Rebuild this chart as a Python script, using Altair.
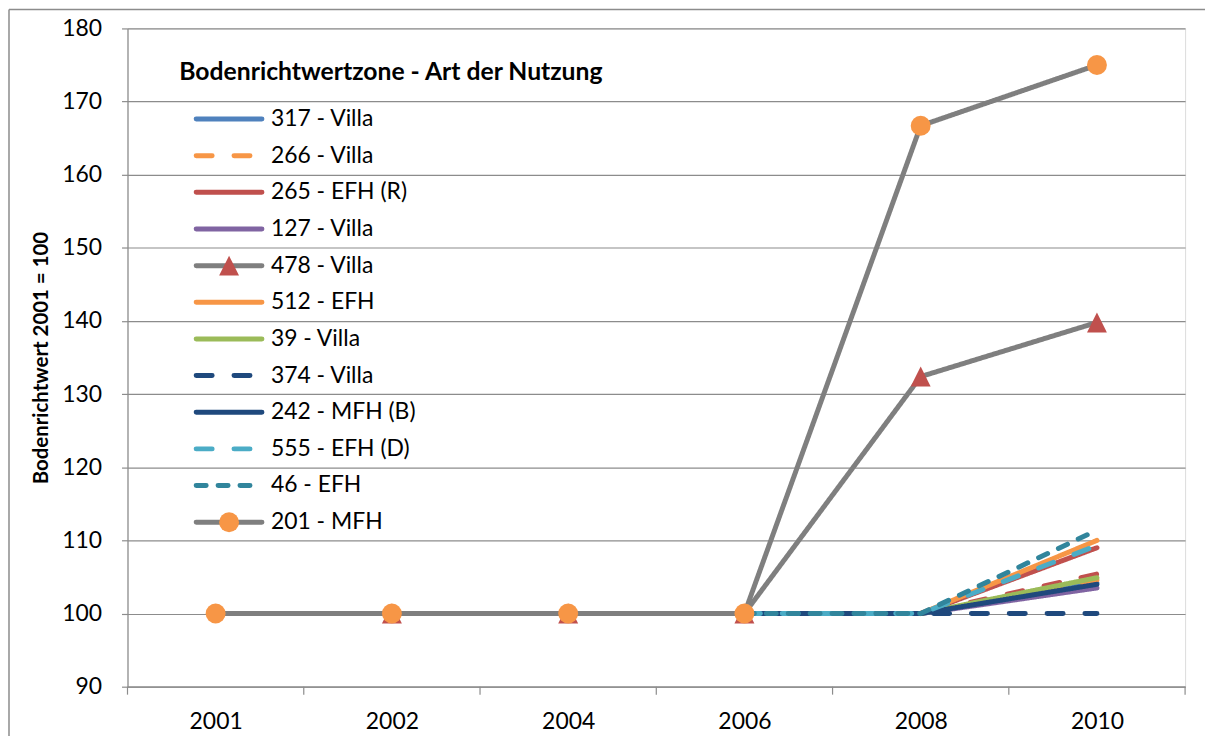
import altair as alt
import pandas as pd

years = ["2001", "2002", "2004", "2006", "2008", "2010"]

series_names = [
    "317 - Villa", "266 - Villa", "265 - EFH (R)", "ohne Legendeneintrag",
    "127 - Villa", "478 - Villa", "512 - EFH", "39 - Villa", "374 - Villa",
    "242 - MFH (B)", "555 - EFH (D)", "46 - EFH", "201 - MFH",
]
legend_names = [
    "317 - Villa", "266 - Villa", "265 - EFH (R)", "127 - Villa", "478 - Villa",
    "512 - EFH", "39 - Villa", "374 - Villa", "242 - MFH (B)", "555 - EFH (D)",
    "46 - EFH", "201 - MFH",
]

v_317 = [None, None, None, 100, 100, 104.2]
v_266 = [None, None, None, 100, 100, 104.6]
v_265 = [None, None, None, 100, 100, 109.0]
v_extra = [None, None, None, 100, 100, 105.4]
v_127 = [None, None, None, 100, 100, 103.5]
v_478 = [None, 100, 100, 100, 132.4, 139.8]
v_512 = [None, None, None, 100, 100, 110.0]
v_39 = [None, None, None, 100, 100, 104.9]
v_374 = [None, None, None, 100, 100, 100.0]
v_242 = [None, None, None, 100, 100, 104.0]
v_555 = [None, None, None, 100, 100, 109.3]
v_46 = [None, None, None, 100, 100, 111.4]
v_201 = [100, 100, 100, 100, 166.7, 175.0]

values = [v_317, v_266, v_265, v_extra, v_127, v_478, v_512, v_39, v_374,
          v_242, v_555, v_46, v_201]

colors = ["#4F81BD", "#F79646", "#C0504D", "#C0504D", "#8064A2", "#7F7F7F",
          "#F79646", "#9BBB59", "#1F497D", "#1F497D", "#4BACC6", "#31859C",
          "#7F7F7F"]
LONG = [16, 22]
SHORT = [10, 12]
SOLID = [1, 0]
dashes = [SOLID, LONG, SOLID, LONG, SOLID, SOLID, SOLID, SOLID, LONG, SOLID,
          LONG, SHORT, SOLID]

rows = []
for name, vals in zip(series_names, values):
    for i, v in enumerate(vals):
        if v is not None:
            rows.append({"series": name, "i": i, "value": v})
df = pd.DataFrame(rows)

legend_df = pd.DataFrame({"series": legend_names, "row": list(range(len(legend_names)))})
boundaries = pd.DataFrame({"b": [k - 0.5 for k in range(len(years) + 1)]})

W, H = 1062, 661
GRID = "#8C8C8C"
FONT = "Lato"
FS = 23

color_enc = alt.Color("series:N", scale=alt.Scale(domain=series_names, range=colors), legend=None)
dash_enc = alt.StrokeDash("series:N", scale=alt.Scale(domain=series_names, range=dashes), legend=None)

label_expr = "[" + ",".join("'%s'" % y for y in years) + "][datum.value]"

x_scale = alt.Scale(domain=[-0.5, len(years) - 0.5], nice=False, zero=False)
x_axis = alt.Axis(values=list(range(len(years))), labelExpr=label_expr, ticks=False,
                  grid=False, domainColor=GRID, domainWidth=1.2, labelFontSize=FS,
                  labelColor="black", labelPadding=24, title=None, labelFont=FONT)
x_enc = alt.X("i:Q", scale=x_scale, axis=x_axis)
y_enc = alt.Y(
    "value:Q",
    scale=alt.Scale(domain=[90, 180], nice=False, zero=False),
    axis=alt.Axis(values=list(range(90, 181, 10)), grid=True, gridColor=GRID,
                  gridWidth=1.2, domainColor=GRID, domainWidth=1.2, tickColor=GRID,
                  tickSize=6, tickWidth=1.2, labelFontSize=FS, labelColor="black",
                  labelPadding=20, labelFont=FONT,
                  title="Bodenrichtwert 2001 = 100", titleFontSize=20.5,
                  titleFontWeight="bold", titleColor="black", titleFont=FONT,
                  titleX=-86, titleBaseline="middle"),
)

base = alt.Chart(df)

frame_src = alt.Chart(boundaries).transform_filter("datum.b < 0")
frame_left = frame_src.mark_rule(color="#8C8C8C", strokeWidth=1.5).encode(
    x=alt.value(-119), y=alt.value(-19), y2=alt.value(760)
)
frame_top = frame_src.mark_rule(color="#8C8C8C", strokeWidth=1.5).encode(
    y=alt.value(-19), x=alt.value(-119), x2=alt.value(1100)
)

xticks = alt.Chart(boundaries).mark_rule(color=GRID, strokeWidth=1.2).encode(
    x=alt.X("b:Q", scale=x_scale, axis=x_axis),
    y=alt.value(H), y2=alt.value(H + 8),
)

main_layers = []
for name in series_names:
    if name == "201 - MFH":
        continue
    main_layers.append(
        base.transform_filter(alt.datum.series == name)
        .mark_line(strokeWidth=5, strokeCap="round", strokeJoin="round")
        .encode(x=x_enc, y=y_enc, color=color_enc, strokeDash=dash_enc)
    )

tri_path = "M0,-1L1,1L-1,1Z"
main_layers.append(
    base.transform_filter(alt.datum.series == "478 - Villa")
    .mark_point(shape=tri_path, filled=True, fill="#C0504D", size=400, opacity=1, strokeWidth=0)
    .encode(x=x_enc, y=y_enc)
)
main_layers.append(
    base.transform_filter(alt.datum.series == "201 - MFH")
    .mark_line(strokeWidth=5, strokeCap="round", strokeJoin="round")
    .encode(x=x_enc, y=y_enc, color=color_enc, strokeDash=dash_enc)
)
main_layers.append(
    base.transform_filter(alt.datum.series == "201 - MFH")
    .mark_point(shape="circle", filled=True, fill="#F79646", size=400, opacity=1, strokeWidth=0)
    .encode(x=x_enc, y=y_enc)
)

main = alt.layer(frame_left, frame_top, *main_layers, xticks)

ly = alt.Y("row:Q", scale=alt.Scale(domain=[0, len(legend_names) - 1], range=[91, 91 + 36.8 * (len(legend_names) - 1)], nice=False, zero=False), axis=None)
lbase = alt.Chart(legend_df)
leg_lines = lbase.mark_rule(strokeWidth=5, strokeCap="round").encode(
    x=alt.value(69), x2=alt.value(135), y=ly, color=color_enc, strokeDash=dash_enc
)
leg_tri = lbase.transform_filter(alt.datum.series == "478 - Villa").mark_point(
    shape=tri_path, filled=True, fill="#C0504D", size=400, opacity=1, strokeWidth=0
).encode(x=alt.value(102), y=ly)
leg_circ = lbase.transform_filter(alt.datum.series == "201 - MFH").mark_point(
    shape="circle", filled=True, fill="#F79646", size=400, opacity=1, strokeWidth=0
).encode(x=alt.value(102), y=ly)
leg_text = lbase.mark_text(align="left", baseline="middle", fontSize=FS, font=FONT, color="black").encode(
    x=alt.value(144), y=ly, text="series:N"
)
leg_title = lbase.transform_filter("datum.row == 0").mark_text(
    align="left", baseline="middle", fontSize=24.8, font=FONT, fontWeight="bold", color="black"
).encode(x=alt.value(52), y=alt.value(45), text=alt.value("Bodenrichtwertzone - Art der Nutzung"))

legend = alt.layer(leg_lines, leg_tri, leg_circ, leg_text, leg_title)

chart = alt.layer(main, legend).resolve_scale(y="independent").properties(
    width=W, height=H,
    autosize=alt.AutoSizeParams(type="none"),
    padding={"left": 120, "top": 19, "right": 20, "bottom": 48},
).configure_view(stroke=None).configure(font=FONT, background="white")

chart.save("out.html", embed_options={"renderer": "svg", "actions": False})
